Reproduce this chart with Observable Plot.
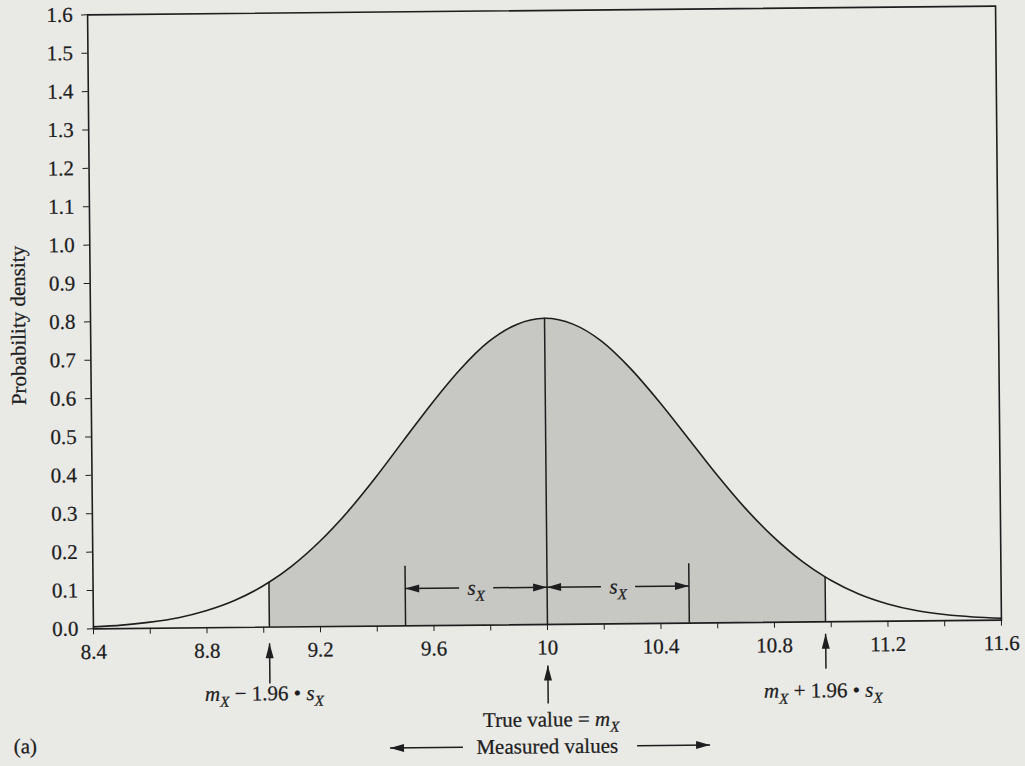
<!DOCTYPE html>
<html><head><meta charset="utf-8">
<script src="https://cdn.jsdelivr.net/npm/d3@7"></script>
<script src="https://cdn.jsdelivr.net/npm/@observablehq/plot@0.6"></script>
<style>
html,body{margin:0;padding:0;background:#e9e9e6;overflow:hidden;}
#fig{width:1025px;height:766px;transform:rotate(-0.55deg);transform-origin:544px 317px;}
#fig svg{display:block;}
#fig svg text{stroke:#1e1e1e;stroke-width:0.25px;}
</style></head><body><div id="fig"></div>
<script>
const curveX = [8.4, 8.5, 8.6, 8.7, 8.8, 8.9, 9.0, 9.02, 9.1, 9.2, 9.3, 9.4, 9.5, 9.6, 9.7, 9.8, 9.9, 10.0,
                10.1, 10.2, 10.3, 10.4, 10.5, 10.6, 10.7, 10.8, 10.9, 10.98, 11.0, 11.1, 11.2, 11.3, 11.4, 11.5, 11.6];
const curveY = [0.005, 0.009, 0.016, 0.027, 0.045, 0.071, 0.108, 0.117, 0.158, 0.222, 0.299, 0.388, 0.484, 0.579, 0.666, 0.737, 0.782, 0.798,
                0.782, 0.737, 0.666, 0.579, 0.484, 0.388, 0.299, 0.222, 0.158, 0.117, 0.108, 0.071, 0.045, 0.027, 0.016, 0.009, 0.005];
const shadeFrom = 9.02, shadeTo = 10.98;

// Axis ticks
const xTicks = [8.4, 8.6, 8.8, 9.0, 9.2, 9.4, 9.6, 9.8, 10.0, 10.2, 10.4, 10.6, 10.8, 11.0, 11.2, 11.4, 11.6];
const xTickLabels = ["8.4", "", "8.8", "", "9.2", "", "9.6", "", "10", "", "10.4", "", "10.8", "", "11.2", "", "11.6"];
const yTicks = [0, 0.1, 0.2, 0.3, 0.4, 0.5, 0.6, 0.7, 0.8, 0.9, 1.0, 1.1, 1.2, 1.3, 1.4, 1.5, 1.6];

// Vertical reference lines inside the plot
const ruleXs = [9.02, 9.5, 10.0, 10.5, 10.98];
const ruleTops = [0.117, 0.155, 0.798, 0.155, 0.117];

// s_X spans
const spanLabels = ["s_X", "s_X"];
const spanFrom = [9.5, 10.0];
const spanTo = [10.0, 10.5];
const spanCenters = [9.75, 10.25];
const spanY = 0.097;
const spanGap = 0.06;

// Annotations below the axis
const upArrowX = [9.02, 10.0, 10.98];
const upArrowTail = [-0.147, -0.206, -0.122];
const upArrowHead = [-0.042, -0.107, -0.031];
const noteText = ["m_X − 1.96 • s_X", "True value = m_X", "m_X + 1.96 • s_X"];
const noteX = [9.0, 10.01, 10.97];
const noteY = [-0.173, -0.248, -0.179];
const measuredText = ["Measured values"];
const measuredX = 9.995, measuredY = -0.318;
const measuredTail = [9.698, 10.312];
const measuredHead = [9.441, 10.569];

// ---- build tables ----
const curve = curveX.map((x, i) => ({x, y: curveY[i]}));
const shade = curve.filter(d => d.x >= shadeFrom && d.x <= shadeTo);
const rules = ruleXs.map((x, i) => ({x, top: ruleTops[i]}));
const xLabelMap = new Map(xTicks.map((t, i) => [t, xTickLabels[i]]));

const hArrows = [];
spanCenters.forEach((c, i) => {
  hArrows.push({x1: c - spanGap, x2: spanFrom[i], y: spanY, dir: "left"});
  hArrows.push({x1: c + spanGap, x2: spanTo[i], y: spanY, dir: "right"});
});
hArrows.push({x1: measuredTail[0], x2: measuredHead[0], y: measuredY, dir: "left"});
hArrows.push({x1: measuredTail[1], x2: measuredHead[1], y: measuredY, dir: "right"});
const vArrows = upArrowX.map((x, i) => ({x, y1: upArrowTail[i], y2: upArrowHead[i]}));
const notes = noteText.map((t, i) => ({t, x: noteX[i], y: noteY[i]}));
const spans = spanLabels.map((t, i) => ({t, x: spanCenters[i], y: spanY}));

const head = (dir, L, W) => ({draw(ctx) {
  if (dir === "up") { ctx.moveTo(0, 0); ctx.lineTo(-W, L); ctx.lineTo(W, L); }
  else if (dir === "left") { ctx.moveTo(0, 0); ctx.lineTo(L, -W); ctx.lineTo(L, W); }
  else { ctx.moveTo(0, 0); ctx.lineTo(-L, -W); ctx.lineTo(-L, W); }
  ctx.closePath();
}});

const ink = "#1e1e1e";
const plot = Plot.plot({
  width: 1025, height: 766,
  marginLeft: 90, marginRight: 27, marginTop: 10, marginBottom: 142,
  style: {fontFamily: "'Liberation Serif', 'Times New Roman', serif", fontSize: "21px", color: ink, background: "transparent", overflow: "visible"},
  x: {domain: [8.4, 11.6], ticks: xTicks, tickFormat: d => xLabelMap.get(d), tickSize: 6, tickPadding: 9, label: null},
  y: {domain: [0, 1.6], ticks: yTicks, tickFormat: d3.format(".1f"), tickSize: 6, tickPadding: 9, label: null},
  marks: [
    Plot.areaY(shade, {x: "x", y: "y", fill: "#c7c7c4", curve: "monotone-x"}),
    Plot.line(curve, {x: "x", y: "y", stroke: ink, strokeWidth: 1.6, curve: "monotone-x"}),
    Plot.ruleX(rules, {x: "x", y1: 0, y2: "top", stroke: ink, strokeWidth: 1.5}),
    Plot.link(hArrows, {x1: "x1", x2: "x2", y1: "y", y2: "y", stroke: ink, strokeWidth: 1.5}),
    Plot.link(vArrows, {x1: "x", x2: "x", y1: "y1", y2: "y2", stroke: ink, strokeWidth: 1.5}),
    Plot.dot(hArrows.filter(d => d.dir === "left"), {x: "x2", y: "y", symbol: head("left", 14, 4), fill: ink, stroke: "none"}),
    Plot.dot(hArrows.filter(d => d.dir === "right"), {x: "x2", y: "y", symbol: head("right", 14, 4), fill: ink, stroke: "none"}),
    Plot.dot(vArrows, {x: "x", y: "y2", symbol: head("up", 15, 4), fill: ink, stroke: "none"}),
    Plot.text(spans, {x: "x", y: "y", text: "t", fontSize: 21, fill: ink, lineAnchor: "middle"}),
    Plot.text(notes, {x: "x", y: "y", text: "t", fontSize: 21, fill: ink, lineAnchor: "middle"}),
    Plot.text(measuredText, {x: measuredX, y: measuredY, text: d => d, fontSize: 21, fill: ink, lineAnchor: "middle"}),
    Plot.text(["Probability density"], {frameAnchor: "left", text: d => d, rotate: -90, textAnchor: "middle", dx: -72, dy: 3, fontSize: 21, fill: ink, lineAnchor: "middle"}),
    Plot.text(["(a)"], {frameAnchor: "bottom-left", text: d => d, textAnchor: "start", dx: -81, dy: 117, fontSize: 21, fill: ink, lineAnchor: "middle"}),
    Plot.frame({stroke: ink, strokeWidth: 1.6})
  ]
});

// subscripts: m_X, s_X -> italic letter with subscript italic X
d3.select(plot).selectAll("text").each(function() {
  const t = this.textContent;
  if (!t.includes("_X")) return;
  const sel = d3.select(this).style("white-space", "pre");
  sel.selectAll("*").remove();
  sel.text(null);
  const parts = t.split(/([ms])_X/);
  let lowered = false;
  parts.forEach((p, i) => {
    if (i % 2 === 0) {
      if (!p) return;
      const ts = sel.append("tspan").text(p);
      if (lowered) { ts.attr("dy", -6); lowered = false; }
    } else {
      const ts = sel.append("tspan").attr("font-style", "italic").text(p);
      if (lowered) { ts.attr("dy", -6); lowered = false; }
      sel.append("tspan").attr("font-style", "italic").attr("font-size", 15).attr("dy", 6).text("X");
      lowered = true;
    }
  });
});

document.getElementById("fig").appendChild(plot);
</script>
</body></html>
